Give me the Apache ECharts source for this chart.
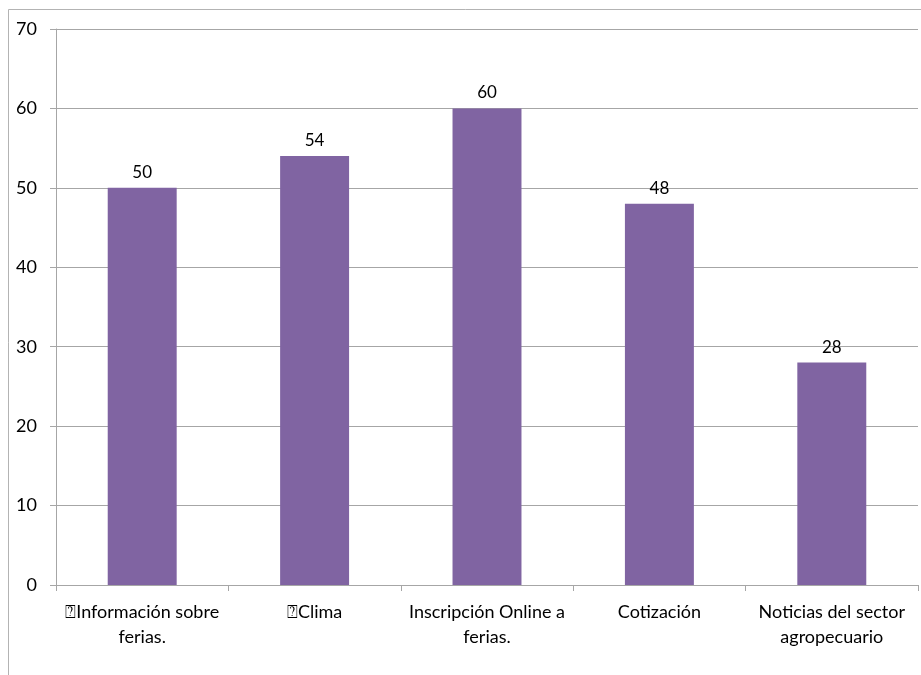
<!DOCTYPE html>
<html>
<head>
<meta charset="utf-8">
<script src="https://cdn.jsdelivr.net/npm/echarts@6/dist/echarts.min.js"></script>
<style>
  html, body { margin: 0; padding: 0; background: #fff; }
  #chart { width: 921px; height: 675px; }
</style>
</head>
<body>
<div id="chart"></div>
<script>
// datos
var categorias = ['\u2370Información sobre\nferias.', '\u2370Clima', 'Inscripción Online a\nferias.', 'Cotización', 'Noticias del sector\nagropecuario'];
var valores = [50, 54, 60, 48, 28];
var ticksY = [0, 10, 20, 30, 40, 50, 60, 70];

var myChart = echarts.init(document.getElementById('chart'));

var fuente = 'Lato';

option = {
    animation: false,
    graphic: [{
        type: 'rect',
        shape: { x: 8.5, y: 9.5, width: 1000, height: 1000 },
        style: { fill: 'none', stroke: '#b3b3b3', lineWidth: 1 },
        silent: true
    }],
    grid: {
        left: 56,
        right: 3,
        top: 29,
        bottom: 90
    },
    xAxis: {
        type: 'category',
        data: categorias,
        axisLine: { lineStyle: { color: '#a6a6a6' } },
        axisTick: { show: true, alignWithLabel: false, length: 6, lineStyle: { color: '#a6a6a6' } },
        axisLabel: {
            color: '#000',
            fontFamily: fuente,
            fontSize: 18,
            lineHeight: 25,
            margin: 15,
            interval: 0
        }
    },
    yAxis: {
        type: 'value',
        min: ticksY[0],
        max: ticksY[ticksY.length - 1],
        interval: 10,
        axisLine: { show: true, lineStyle: { color: '#a6a6a6' } },
        axisTick: { show: true, length: 6, lineStyle: { color: '#a6a6a6' } },
        splitLine: { lineStyle: { color: '#a6a6a6' } },
        axisLabel: {
            color: '#000',
            fontFamily: fuente,
            fontSize: 18,
            margin: 19
        }
    },
    series: [{
        type: 'bar',
        data: valores,
        barWidth: '40%',
        itemStyle: { color: '#8064a2' },
        label: {
            show: true,
            position: 'top',
            distance: 7,
            color: '#000',
            fontFamily: fuente,
            fontSize: 17
        }
    }]
};

myChart.setOption(option);

window.addEventListener('resize', function() {
    myChart.resize()
})
</script>
</body>
</html>
